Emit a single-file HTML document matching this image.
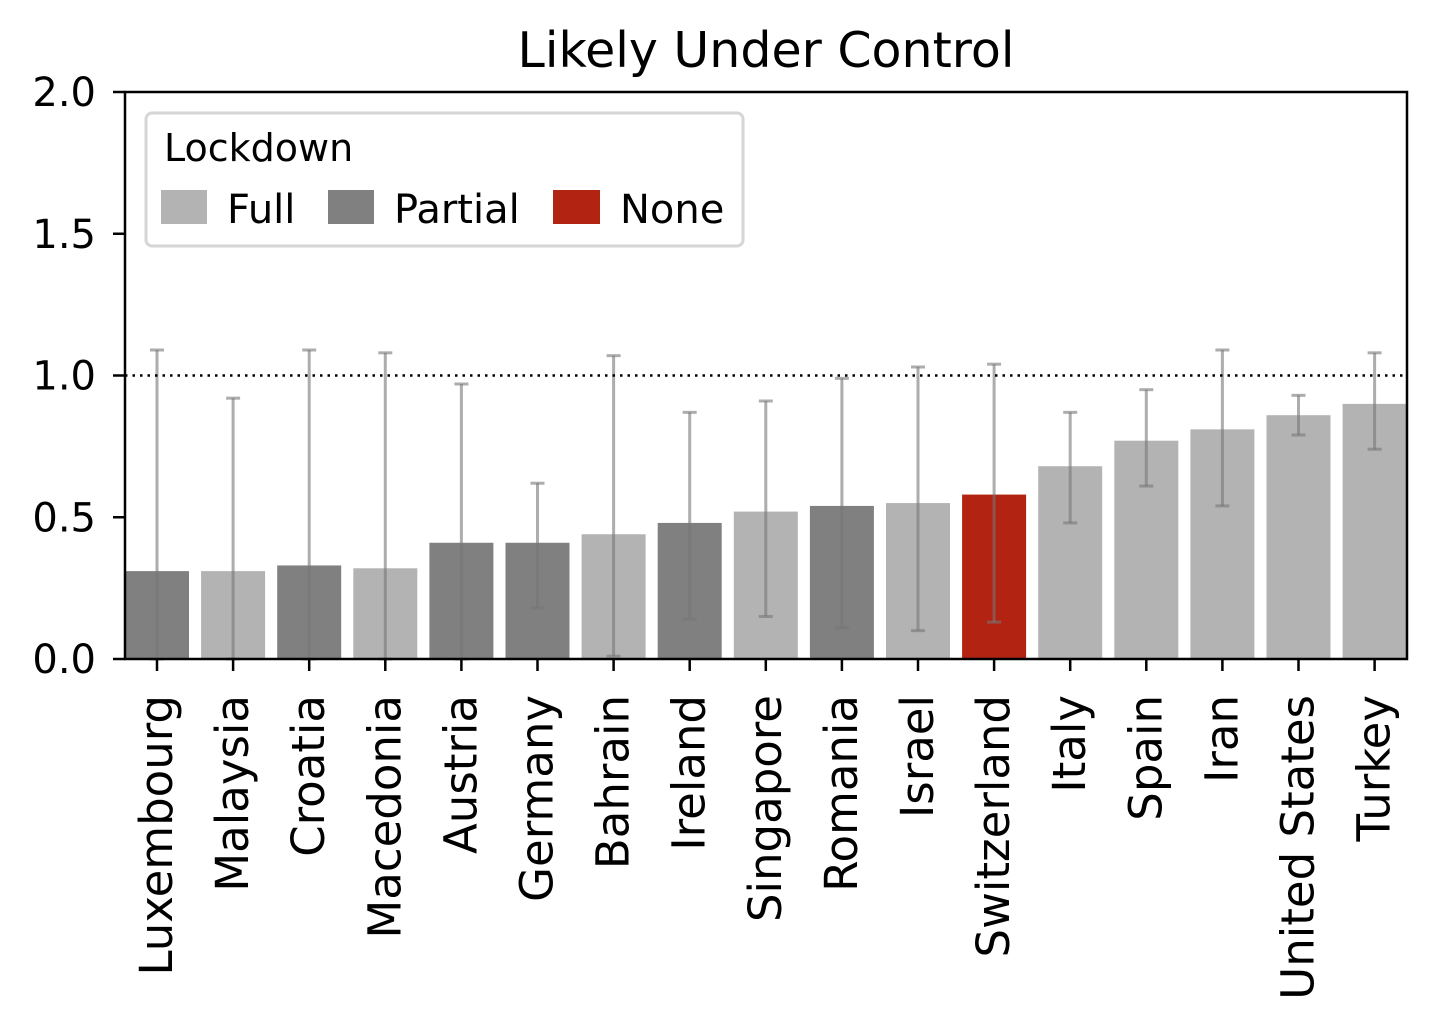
<!DOCTYPE html>
<html><head><meta charset="utf-8"><style>
html,body{margin:0;padding:0;background:#fff;}
svg text{font-family:"DejaVu Sans","Liberation Sans",sans-serif;}
</style></head><body>
<svg id="chart" width="1435" height="1028" xmlns="http://www.w3.org/2000/svg">
<text x="766" y="67" font-size="49" text-anchor="middle">Likely Under Control</text>
<g id="plot"></g>
<g id="legend">
<rect x="146" y="113" width="597" height="133" rx="6" fill="#fff" stroke="#d6d6d6" stroke-width="3"/>
<text x="164" y="161" font-size="38">Lockdown</text>
<g><rect x="161" y="190" width="46" height="34" fill="#b3b3b3"/><text x="227" y="223" font-size="40">Full</text></g>
<g><rect x="328" y="190" width="46" height="34" fill="#808080"/><text x="394" y="223" font-size="40">Partial</text></g>
<g><rect x="553" y="190" width="47" height="34" fill="#b22312"/><text x="620" y="223" font-size="40">None</text></g>
</g>
</svg>
<script>
const categories=["Luxembourg","Malaysia","Croatia","Macedonia","Austria","Germany","Bahrain","Ireland","Singapore","Romania","Israel","Switzerland","Italy","Spain","Iran","United States","Turkey"];
const values=[0.31,0.31,0.33,0.32,0.41,0.41,0.44,0.48,0.52,0.54,0.55,0.58,0.68,0.77,0.81,0.86,0.90];
const upper=[1.09,0.92,1.09,1.08,0.97,0.62,1.07,0.87,0.91,0.99,1.03,1.04,0.87,0.95,1.09,0.93,1.08];
const lower=[0.0,0.0,0.0,0.0,0.0,0.18,0.01,0.14,0.15,0.11,0.10,0.13,0.48,0.61,0.54,0.79,0.74];
const lockdown=["Partial","Full","Partial","Full","Partial","Partial","Full","Partial","Full","Partial","Full","None","Full","Full","Full","Full","Full"];
const yTicks=[0.0,0.5,1.0,1.5,2.0];
const yTickLabels=["0.0","0.5","1.0","1.5","2.0"];
const colors={Full:"#b3b3b3",Partial:"#808080",None:"#b22312"};
const L=125,R=1407,T=92,B=659;
const y=v=>B-(v/2)*(B-T);
const x=i=>157+76.1*i;
const NS="http://www.w3.org/2000/svg";
const g=document.getElementById('plot');
function mk(t,a){const e=document.createElementNS(NS,t);for(const k in a)e.setAttribute(k,a[k]);g.appendChild(e);return e;}
const clip=mk('clipPath',{id:'c'});
const cr=document.createElementNS(NS,'rect');cr.setAttribute('x',L);cr.setAttribute('y',T);cr.setAttribute('width',R-L);cr.setAttribute('height',B-T);clip.appendChild(cr);
categories.forEach((c,i)=>{
 const b=mk('rect',{x:x(i)-32,y:y(values[i]),width:64,height:B-y(values[i]),fill:colors[lockdown[i]],'clip-path':'url(#c)'});
 
 
});
categories.forEach((c,i)=>{
 const e=mk('g',{stroke:'#777','stroke-opacity':'0.6','stroke-width':'3'});
 
 
 const a=document.createElementNS(NS,'line');a.setAttribute('x1',x(i));a.setAttribute('x2',x(i));a.setAttribute('y1',y(upper[i]));a.setAttribute('y2',y(lower[i]));e.appendChild(a);
 [upper[i],lower[i]].forEach(v=>{const l=document.createElementNS(NS,'line');l.setAttribute('x1',x(i)-7);l.setAttribute('x2',x(i)+7);l.setAttribute('y1',y(v));l.setAttribute('y2',y(v));e.appendChild(l);});
});
const ref=mk('line',{x1:L,x2:R,y1:y(1),y2:y(1),stroke:'#000','stroke-width':'2.5','stroke-dasharray':'2.5,5'});


const fr=mk('rect',{x:L,y:T,width:R-L,height:B-T,fill:'none',stroke:'#000','stroke-width':'2.5'});


yTicks.forEach((v,i)=>{
 mk('line',{x1:L-12,x2:L,y1:y(v),y2:y(v),stroke:'#000','stroke-width':'2.5'});
 const t=mk('text',{x:L-29,y:y(v)+14,'font-size':'40','text-anchor':'end'});
 
 
 t.textContent=yTickLabels[i];
});
categories.forEach((c,i)=>{
 mk('line',{x1:x(i),x2:x(i),y1:B,y2:B+12,stroke:'#000','stroke-width':'2.5'});
 const t=mk('text',{transform:`translate(${x(i)+15},${B+36}) rotate(-90)`,'font-size':'45','text-anchor':'end'});
 
 
 t.textContent=c;
});
</script>
</body></html>
